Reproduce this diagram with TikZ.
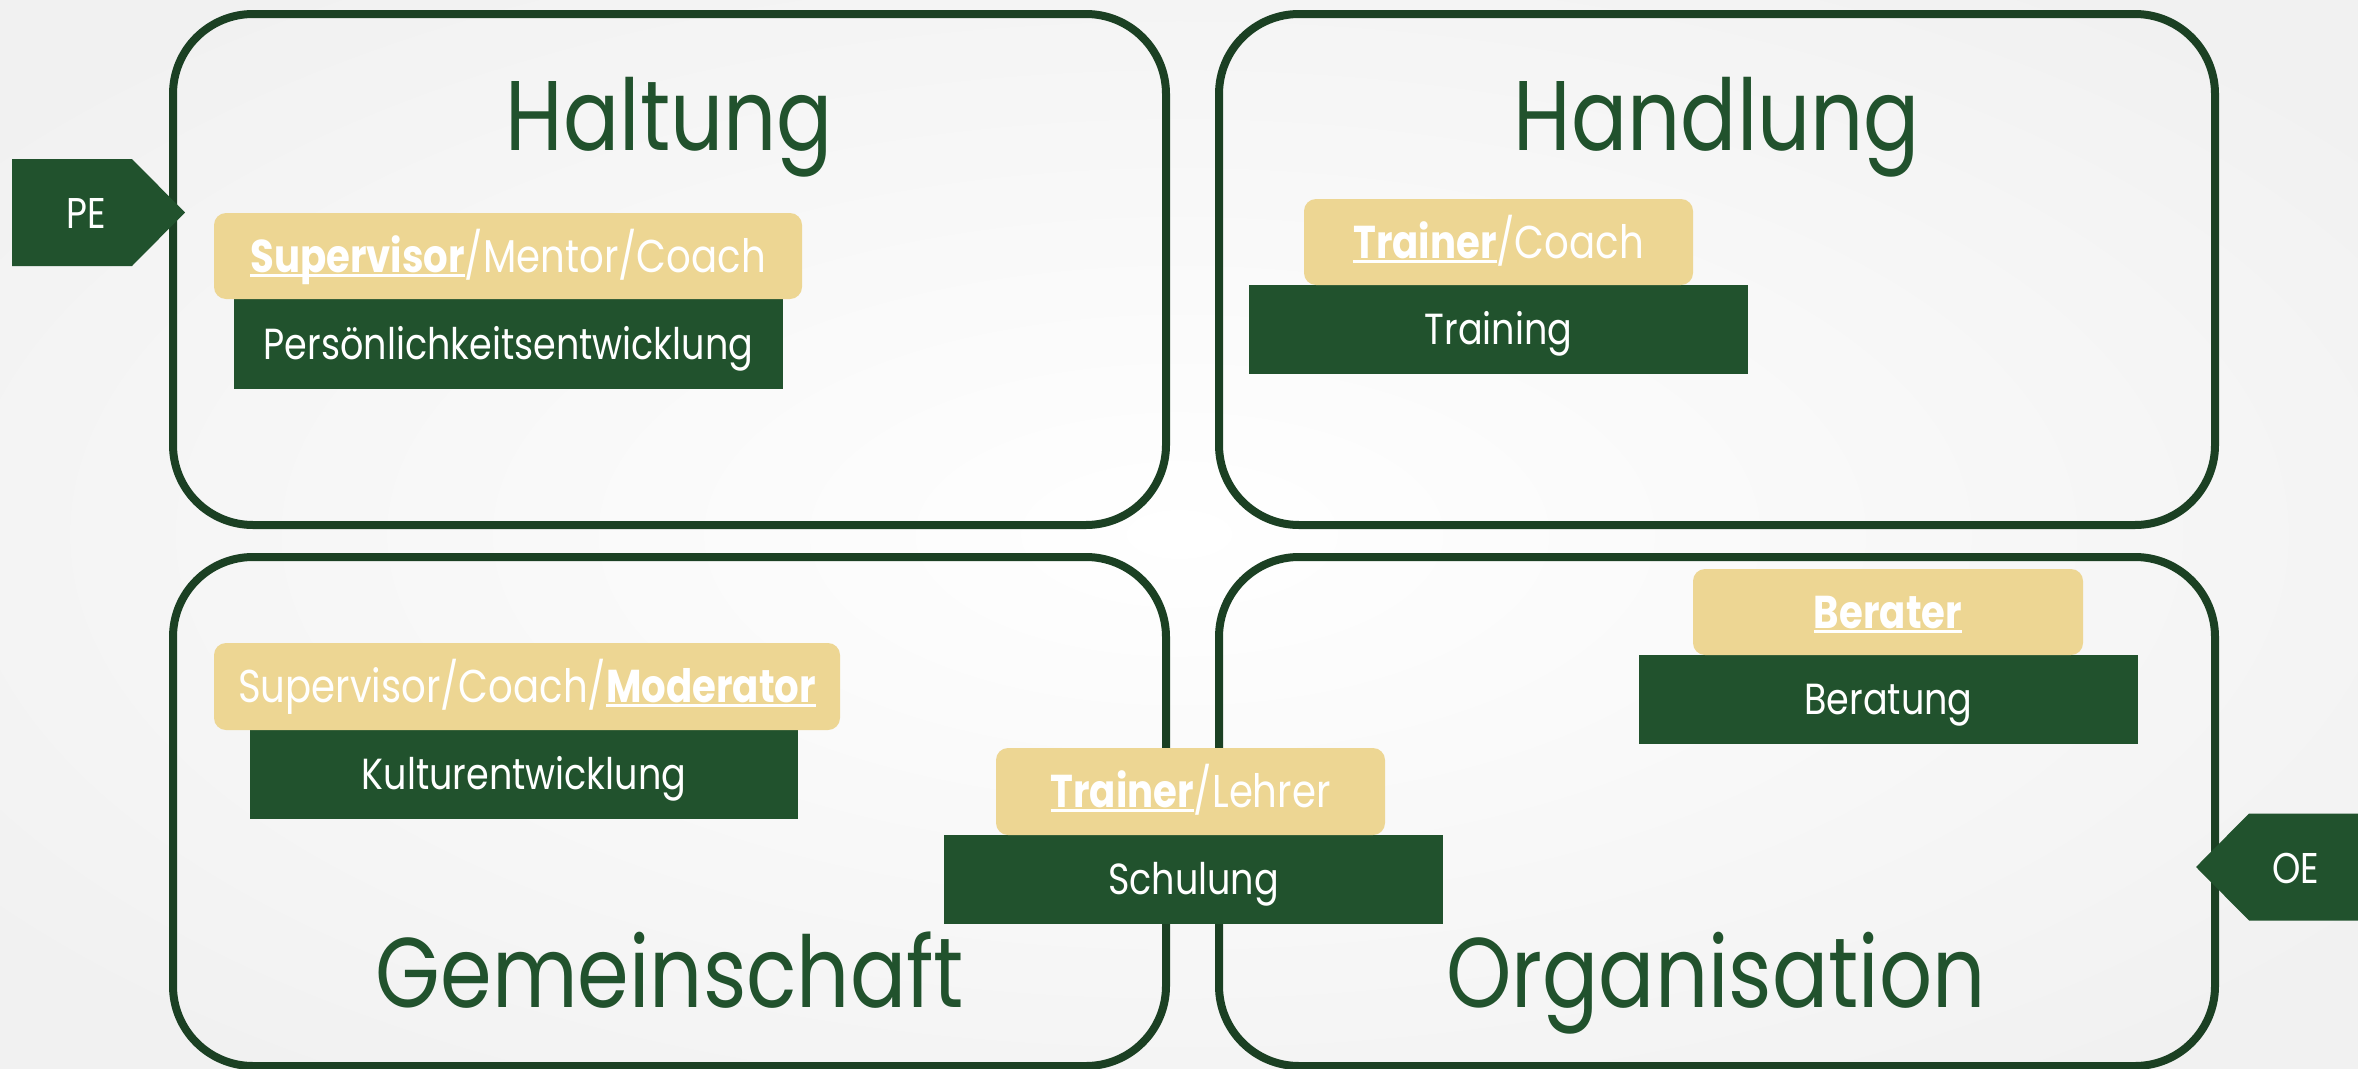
\documentclass[tikz,border=0pt]{standalone}
\usepackage{fontspec}
\setmainfont[FakeStretch=0.84]{Poppins}
\definecolor{dkgreen}{RGB}{33,82,45}
\definecolor{outl}{RGB}{27,64,35}
\definecolor{tanbg}{RGB}{237,214,147}
\definecolor{bggray}{RGB}{241,241,241}
\newcommand\ulw[1]{\setbox0\hbox{#1}\rlap{\rule[-0.1em]{\wd0}{0.06em}}\box0}
\tikzset{
  quad/.style={draw=outl, line width=8pt, rounded corners=80pt, inner sep=0pt},
  titletext/.style={text=dkgreen, font=\fontsize{99}{110}\selectfont, anchor=base, inner sep=0pt},
  gbox/.style={fill=dkgreen, text=white, font=\fontsize{43.5}{50}\selectfont, inner sep=0pt, text height=30pt, text depth=0pt},
  tbox/.style={fill=tanbg, text=white, font=\fontsize{46}{52}\selectfont, inner sep=0pt, rounded corners=12pt, text height=32pt, text depth=0pt},
  tagshape/.style={fill=dkgreen},
  tagtext/.style={text=white, font=\fontsize{43}{50}\selectfont, inner sep=0pt, text height=30pt, text depth=0pt}
}
\begin{document}
\begin{tikzpicture}[x=1pt,y=-1pt]
\useasboundingbox (0,0) rectangle (2358,1068);
\path[shading=radial, inner color=white, outer color=bggray] (-300,-150) rectangle (2658,1218);

% quadrants
\node[quad, minimum width=993pt, minimum height=511pt] (qhal) at (669.5,269.5) {};
\node[quad, minimum width=996pt, minimum height=511pt] (qhan) at (1717,269.5) {};
\node[quad, minimum width=993pt, minimum height=509pt] (qgem) at (669.5,811.5) {};
\node[quad, minimum width=996pt, minimum height=509pt] (qorg) at (1717,811.5) {};

% titles
\node[titletext] (thal) at (669.5,150) {Haltung};
\node[titletext] (than) at (1717,150) {Handlung};
\node[titletext] (tgem) at (670,1007) {Gemeinschaft};
\node[titletext] (torg) at (1716,1007) {Organisation};

% green boxes
\node[gbox, minimum width=549pt, minimum height=90pt] (g1) at (508.5,344) {Persönlichkeitsentwicklung};
\node[gbox, minimum width=499pt, minimum height=89pt] (g2) at (1498.5,329.5) {Training};
\node[gbox, minimum width=548pt, minimum height=89pt] (g3) at (524,774.5) {Kulturentwicklung};
\node[gbox, minimum width=499pt, minimum height=89pt] (g4) at (1193.5,879.5) {Schulung};
\node[gbox, minimum width=499pt, minimum height=89pt] (g5) at (1888.5,699.5) {Beratung};

% tan boxes
\node[tbox, minimum width=588pt, minimum height=86pt] (t1) at (508,256) {\ulw{\bfseries Supervisor}/Mentor/Coach};
\node[tbox, minimum width=389pt, minimum height=86pt] (t2) at (1498.5,242) {\ulw{\bfseries Trainer}/Coach};
\node[tbox, minimum width=626pt, minimum height=87pt] (t3) at (527,686.5) {Supervisor/Coach/\ulw{\bfseries Moderator}};
\node[tbox, minimum width=389pt, minimum height=87pt] (t4) at (1190.5,791.5) {\ulw{\bfseries Trainer}/Lehrer};
\node[tbox, minimum width=390pt, minimum height=86pt] (t5) at (1888,612) {\ulw{\bfseries Berater}};

% PE / OE tags
\fill[tagshape] (12,159) -- (132,159) -- (185,212.5) -- (132,266) -- (12,266) -- cycle;
\node[tagtext] (pe) at (86,213) {PE};
\fill[tagshape] (2369,813.5) -- (2249,813.5) -- (2196,867) -- (2249,920.5) -- (2369,920.5) -- cycle;
\node[tagtext] (oe) at (2296,868) {OE};
\end{tikzpicture}
\end{document}
